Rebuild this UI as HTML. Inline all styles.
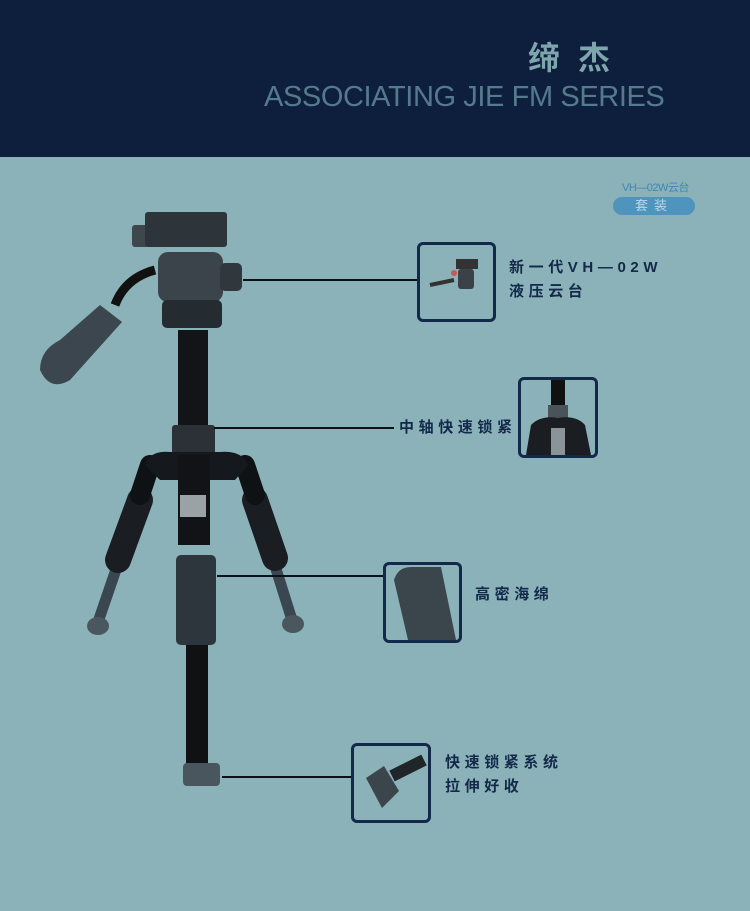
<!DOCTYPE html>
<html><head><meta charset="utf-8"><style>
body{margin:0;width:750px;height:911px;background:#8ab2b8;position:relative;overflow:hidden;font-family:"Liberation Sans","Noto Sans CJK SC",sans-serif}
.hdr{position:absolute;left:0;top:0;width:750px;height:157px;background:#0d1f3d}
.t1{position:absolute;left:528px;top:38px;font-size:32px;font-weight:bold;color:#7fa6ac;letter-spacing:18px;line-height:40px}
.t2{position:absolute;left:264px;top:80px;font-size:29px;color:#55798d;line-height:34px;letter-spacing:-0.4px}
.box{position:absolute;border:3px solid #13294a;border-radius:6px;box-sizing:border-box;overflow:hidden}
.ln{position:absolute;height:2px;background:#0a0f18}
.lb{position:absolute;font-size:15px;font-weight:bold;color:#13294a;letter-spacing:4.6px;line-height:24px}
</style></head><body>
<div class="hdr"></div>
<div class="t1">缔杰</div>
<div class="t2">ASSOCIATING JIE FM SERIES</div>
<div style="position:absolute;left:622px;top:179px;font-size:11px;color:#3f86b8;letter-spacing:-0.5px">VH—02W云台</div>
<div style="position:absolute;left:613px;top:197px;width:82px;height:18px;border-radius:9px;background:#4f94bd;color:#bcd6e4;font-size:13px;text-align:center;line-height:18px;letter-spacing:6px">套装</div>

<svg style="position:absolute;left:0;top:0" width="750" height="911">
 <g stroke-linecap="round">
  <line x1="150" y1="470" x2="97" y2="625" stroke="#3a4750" stroke-width="11"/>
  <line x1="245" y1="470" x2="292" y2="620" stroke="#3a4750" stroke-width="11"/>
  <line x1="140" y1="500" x2="118" y2="560" stroke="#1a1d22" stroke-width="26"/>
  <line x1="255" y1="500" x2="275" y2="558" stroke="#1a1d22" stroke-width="26"/>
  <line x1="150" y1="465" x2="140" y2="495" stroke="#0f1215" stroke-width="20"/>
  <line x1="245" y1="465" x2="255" y2="495" stroke="#0f1215" stroke-width="20"/>
 </g>
 <ellipse cx="98" cy="626" rx="11" ry="9" fill="#4a575e"/>
 <ellipse cx="293" cy="624" rx="11" ry="9" fill="#4a575e"/>
 <path d="M155 270 Q125 278 115 305" stroke="#111" stroke-width="9" fill="none"/>
 <path d="M100 305 L122 322 L70 380 Q50 392 40 370 Q40 350 60 340 Z" fill="#3b464e"/>
 <rect x="132" y="225" width="20" height="22" rx="3" fill="#3d474d"/>
 <rect x="145" y="212" width="82" height="35" rx="3" fill="#2d353b"/>
 <rect x="158" y="252" width="65" height="50" rx="10" fill="#3a444a"/>
 <rect x="220" y="263" width="22" height="28" rx="5" fill="#30383d"/>
 <rect x="162" y="300" width="60" height="28" rx="5" fill="#252c31"/>
 <rect x="178" y="330" width="30" height="95" fill="#121417"/>
 <rect x="172" y="425" width="43" height="30" rx="3" fill="#2b3136"/>
 <path d="M145 465 Q150 450 170 452 L220 452 Q242 450 248 465 L235 480 L160 480 Z" fill="#15181c"/>
 <rect x="178" y="455" width="32" height="90" fill="#111316"/>
 <rect x="180" y="495" width="26" height="22" fill="#9aa2a6"/>
 <rect x="176" y="555" width="40" height="90" rx="5" fill="#2d363c"/>
 <rect x="186" y="645" width="22" height="120" fill="#0f1113"/>
 <rect x="183" y="763" width="37" height="23" rx="4" fill="#4a565d"/>
</svg>

<div class="ln" style="left:243px;top:279px;width:174px"></div>
<div class="ln" style="left:214px;top:427px;width:180px"></div>
<div class="ln" style="left:217px;top:575px;width:166px"></div>
<div class="ln" style="left:222px;top:776px;width:130px"></div>

<div class="box" style="left:417px;top:242px;width:79px;height:80px">
 <svg width="73" height="74"><rect x="36" y="14" width="22" height="10" fill="#333"/><rect x="38" y="24" width="16" height="20" rx="3" fill="#3a4248"/><circle cx="34" cy="28" r="3" fill="#c55"/><path d="M10 40 L34 35" stroke="#333" stroke-width="4"/></svg>
</div>
<div class="lb" style="left:509px;top:256px">新一代VH—02W<br>液压云台</div>

<div class="box" style="left:518px;top:377px;width:80px;height:81px">
 <svg width="74" height="75"><rect x="30" y="0" width="14" height="25" fill="#111"/><rect x="27" y="25" width="20" height="18" fill="#4a5358"/><path d="M5 75 L10 45 Q20 35 37 38 Q55 35 64 45 L70 75 Z" fill="#1a1d21"/><rect x="30" y="48" width="14" height="27" fill="#8a9397"/></svg>
</div>
<div class="lb" style="left:399px;top:416px">中轴快速锁紧</div>

<div class="box" style="left:383px;top:562px;width:79px;height:81px">
 <svg width="73" height="75"><path d="M8 15 Q12 2 25 2 L55 2 L70 75 L22 75 Z" fill="#3a454c"/></svg>
</div>
<div class="lb" style="left:475px;top:583px">高密海绵</div>

<div class="box" style="left:351px;top:743px;width:80px;height:80px">
 <svg width="74" height="74"><path d="M38 30 L70 14" stroke="#1f2529" stroke-width="12"/><path d="M12 32 L30 20 L45 45 L28 62 Z" fill="#3b464c"/></svg>
</div>
<div class="lb" style="left:445px;top:751px">快速锁紧系统<br>拉伸好收</div>
</body></html>
